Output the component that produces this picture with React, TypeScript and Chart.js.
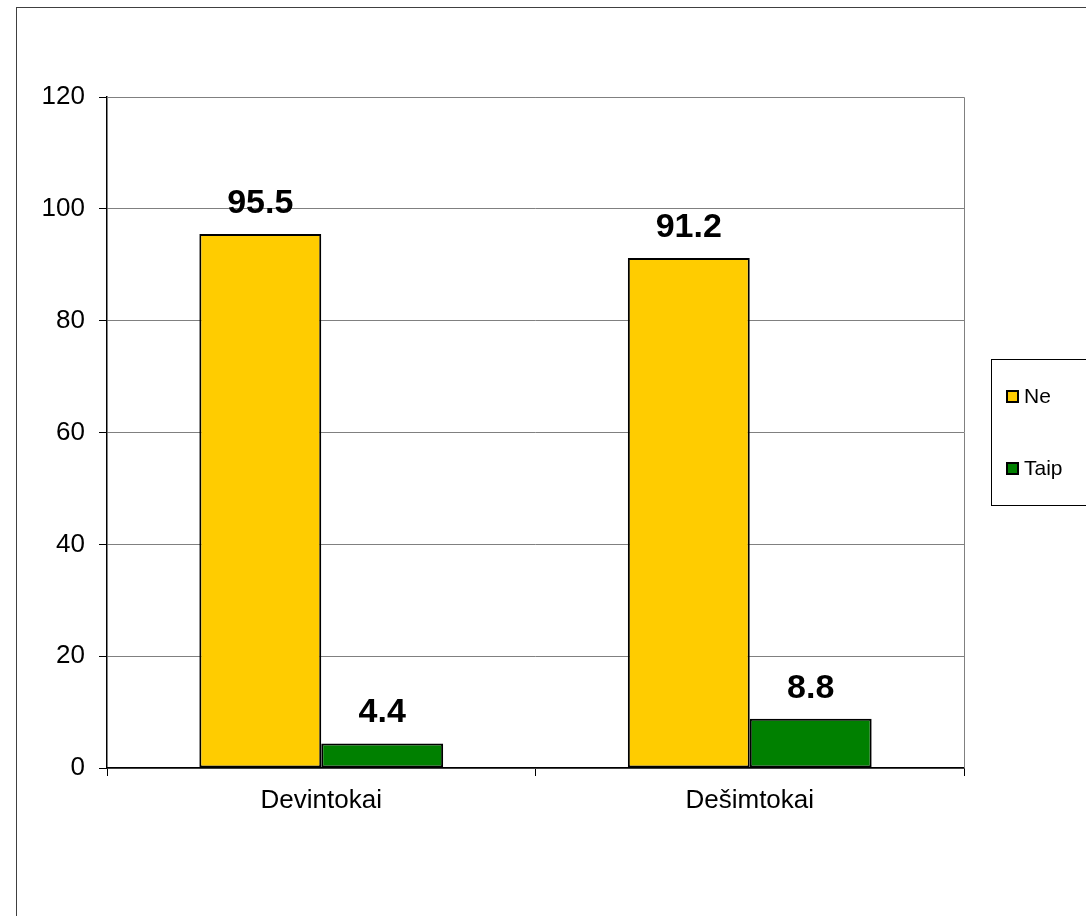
import React, { useEffect, useRef } from "react";
import { Chart, registerables } from "chart.js";

Chart.register(...registerables);

const categories = ["Devintokai", "Dešimtokai"];
const seriesNames = ["Ne", "Taip"];
const neValues = [95.5, 91.2];
const taipValues = [4.4, 8.8];
const seriesColors = ["#FFCC00", "#008000"];
const yTicks = [0, 20, 40, 60, 80, 100, 120];

const FONT = "'Liberation Sans', Arial, sans-serif";

const decorPlugin = {
  id: "decor",
  beforeDraw(chart: any) {
    const { ctx } = chart;
    ctx.save();
    ctx.fillStyle = "#fff";
    ctx.fillRect(0, 0, chart.width, chart.height);
    ctx.strokeStyle = "#404040";
    ctx.lineWidth = 1;
    ctx.strokeRect(16.5, 7.5, 3000, 3000);
    ctx.restore();
  },
  afterDraw(chart: any) {
    const { ctx, chartArea } = chart;
    ctx.save();
    ctx.strokeStyle = "#808080";
    ctx.lineWidth = 1;
    ctx.beginPath();
    ctx.moveTo(chartArea.left, chartArea.top + 0.5);
    ctx.lineTo(chartArea.right + 0.5, chartArea.top + 0.5);
    ctx.lineTo(chartArea.right + 0.5, chartArea.bottom);
    ctx.stroke();

    // data labels
    ctx.fillStyle = "#000";
    ctx.font = `bold 34px ${FONT}`;
    ctx.textAlign = "center";
    ctx.textBaseline = "alphabetic";
    chart.data.datasets.forEach((ds: any, di: number) => {
      const meta = chart.getDatasetMeta(di);
      meta.data.forEach((bar: any, i: number) => {
        ctx.fillText(String(ds.data[i]), bar.x, bar.y - 21);
      });
    });

    // legend
    const lx = chartArea.right + 27;
    const ly = 359;
    ctx.strokeStyle = "#000";
    ctx.lineWidth = 1;
    ctx.strokeRect(lx + 0.5, ly + 0.5, 400, 146);
    const itemY = [396, 468];
    ctx.font = `21px ${FONT}`;
    ctx.textAlign = "left";
    ctx.textBaseline = "middle";
    chart.data.datasets.forEach((ds: any, di: number) => {
      const y = itemY[di];
      ctx.fillStyle = ds.backgroundColor;
      ctx.fillRect(lx + 16, y - 5, 11, 11);
      ctx.strokeStyle = "#000";
      ctx.lineWidth = 2;
      ctx.strokeRect(lx + 16, y - 5, 11, 11);
      ctx.fillStyle = "#000";
      ctx.fillText(ds.label, lx + 33, y + 1);
    });
    ctx.restore();
  },
};

export default function App() {
  const ref = useRef<HTMLCanvasElement | null>(null);
  useEffect(() => {
    if (!ref.current) return;
    const chart = new Chart(ref.current, {
      type: "bar",
      data: {
        labels: categories,
        datasets: [
          {
            label: seriesNames[0],
            data: neValues,
            backgroundColor: seriesColors[0],
            borderColor: "#000",
            borderWidth: 2,
            borderSkipped: false,
            categoryPercentage: 0.569,
            barPercentage: 1,
          },
          {
            label: seriesNames[1],
            data: taipValues,
            backgroundColor: seriesColors[1],
            borderColor: "#000",
            borderWidth: 2,
            borderSkipped: false,
            categoryPercentage: 0.569,
            barPercentage: 1,
          },
        ],
      },
      options: {
        responsive: false,
        animation: false,
        devicePixelRatio: 1,
        layout: { padding: { left: 0, top: 97, right: 122, bottom: 88 } },
        plugins: { legend: { display: false }, tooltip: { enabled: false } },
        scales: {
          x: {
            offset: true,
            grid: {
              offset: true,
              drawOnChartArea: false,
              drawTicks: true,
              tickLength: 8,
              color: "#000",
            },
            border: { color: "#000", width: 1.5 },
            ticks: {
              color: "#000",
              font: { family: FONT, size: 26 },
              padding: 9,
            },
            afterFit: (s: any) => {
              s.height = 60;
            },
          },
          y: {
            min: 0,
            max: 120,
            afterBuildTicks: (s: any) => {
              s.ticks = yTicks.map((v) => ({ value: v }));
            },
            grid: {
              color: "#808080",
              tickColor: "#000",
              tickLength: 8,
              drawTicks: true,
            },
            border: { color: "#000", width: 1.5 },
            ticks: {
              color: "#000",
              font: { family: FONT, size: 26 },
              padding: 14,
            },
            afterFit: (s: any) => {
              s.width = 107;
            },
          },
        },
      },
      plugins: [decorPlugin],
    });
    return () => chart.destroy();
  }, []);
  return (
    <div style={{ position: "fixed", left: 0, top: 0, width: 1086, height: 916, background: "#fff" }}>
      <canvas ref={ref} width={1086} height={916} style={{ display: "block" }} />
    </div>
  );
}
